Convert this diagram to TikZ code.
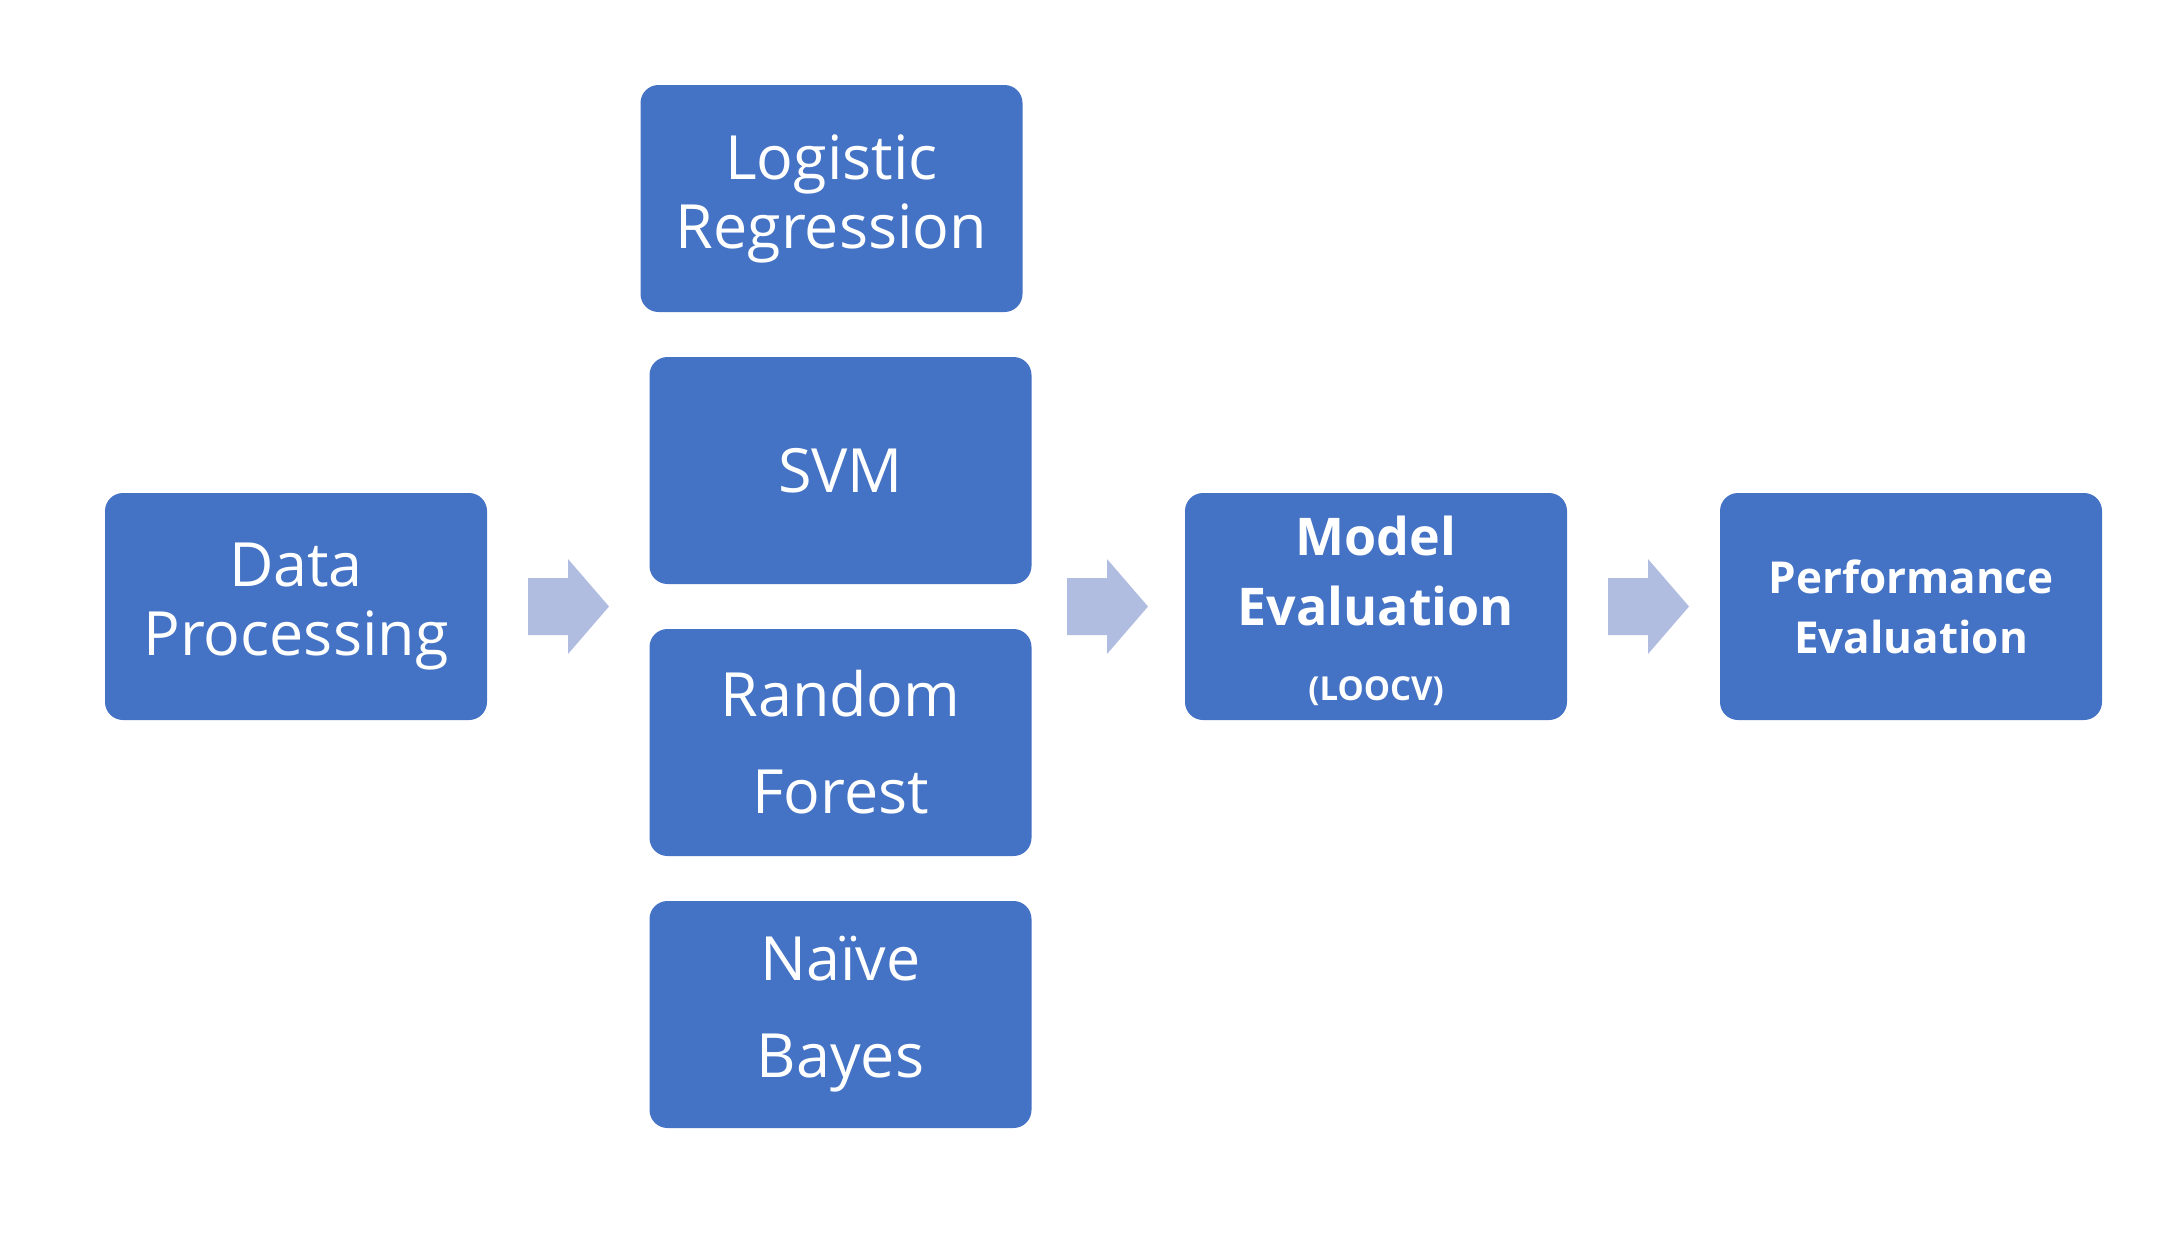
\documentclass[tikz,border=0pt]{standalone}
\usepackage{fontspec}
\setmainfont{Open Sans}
\definecolor{boxblue}{RGB}{68,114,196}
\definecolor{arrowblue}{RGB}{176,189,224}
\begin{document}
\begin{tikzpicture}[x=1pt,y=-1pt,
  blk/.style={fill=boxblue, rounded corners=18pt, minimum width=382pt, minimum height=227pt,
    inner sep=0pt, text=white, align=center},
  reg/.style={font=\fontsize{61}{69}\selectfont},
  regwide/.style={font=\fontsize{61}{97}\selectfont},
  metext/.style={text=white, inner sep=0pt, anchor=base, font=\fontsize{52}{60}\selectfont\bfseries},
  blockarrow/.style={fill=arrowblue}]
\useasboundingbox (0,0) rectangle (2176,1232);
\node[blk, reg] (lr) at (831.5,198.5) {Logistic\\Regression};
\node[blk, reg] (svm) at (840.5,470.5) {SVM};
\node[blk, regwide] (rf) at (840.5,742.5) {Random\\Forest};
\node[blk, regwide] (nb) at (840.5,1014.5) {Naïve\\Bayes};
\node[blk, reg] (dp) at (296,606.5) {Data\\Processing};
\node[blk] (me) at (1376,606.5) {};
\node[metext] (mtxt) at (1376,555) {Model};
\node[metext] (etxt) at (1376,625) {Evaluation};
\node[metext, font=\fontsize{33}{36}\selectfont\bfseries] (loocv) at (1376,700) {(LOOCV)};
\node[blk, font=\fontsize{44}{60}\selectfont\bfseries] (pe) at (1911,606.5) {Performance\\Evaluation};
% block arrows
\foreach \n/\xa in {a1/528, a2/1067, a3/1608} {
  \fill[blockarrow] (\xa,578) -- (\xa+40,578) -- (\xa+40,559) -- (\xa+81,606.5)
    -- (\xa+40,654) -- (\xa+40,635) -- (\xa,635) -- cycle;
}
\end{tikzpicture}
\end{document}
